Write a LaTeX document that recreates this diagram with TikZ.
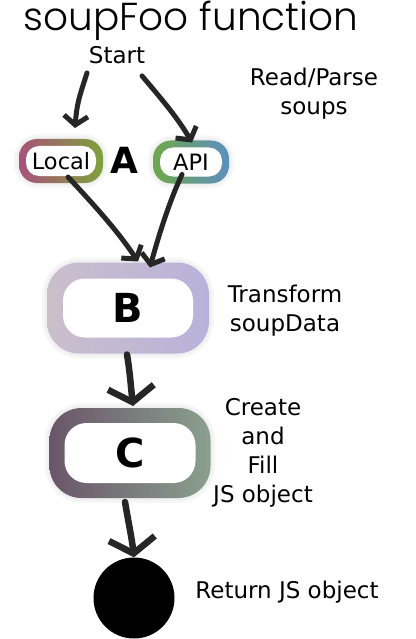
\documentclass[tikz,border=0pt]{standalone}
\usepackage{fontspec}
\setmainfont{DejaVu Sans}
\newfontfamily\titlefont{Poppins}[UprightFont=* Light]
\usetikzlibrary{arrows.meta,backgrounds}

\definecolor{localL}{HTML}{A8527A}
\definecolor{localR}{HTML}{7FA23A}
\definecolor{apiL}{HTML}{6FA84A}
\definecolor{apiR}{HTML}{5B8FC0}
\definecolor{bL}{HTML}{CBBECB}
\definecolor{bR}{HTML}{B8B2DA}
\definecolor{cL}{HTML}{6A556A}
\definecolor{cR}{HTML}{8AA08E}

\tikzset{
  txt/.style={font=\fontsize{23}{29}\selectfont, align=center, inner sep=0pt},
  blob/.style={fill=white, rounded corners=13pt, inner sep=0pt, font=\fontsize{22.5}{29}\selectfont},
  bigblob/.style={blob, rounded corners=22pt, font=\fontsize{40}{40}\selectfont\bfseries},
  ring/.style={rounded corners=#1},
  arr/.style={line width=5pt, line cap=round, line join=round, black!85,
    -{Straight Barb[length=9pt,width=24pt]}},
  bigarr/.style={arr, line width=6.5pt, -{Straight Barb[length=15pt,width=46pt]}},
}

\begin{document}
\begin{tikzpicture}[x=1pt,y=-1pt]
  \useasboundingbox (0,0) rectangle (415,639);

  % title and side notes
  \node[font=\titlefont\fontsize{39}{39}\selectfont, inner sep=0pt] (title) at (191,21) {soupFoo function};
  \node[txt] (start) at (117,55) {Start};
  \node[txt] (read) at (314,94) {Read/Parse\\soups};
  \node[txt] (transform) at (285,311) {Transform\\soupData};
  \node[txt] (create) at (263,453) {Create\\and\\Fill\\JS object};
  \node[txt] (ret) at (287,592) {Return JS object};

  % steps
  \node[blob, minimum width=70pt, minimum height=30pt, outer sep=7pt] (local) at (61,161) {Local};
  \node[font=\fontsize{36}{36}\selectfont\bfseries, inner sep=0pt] (a) at (124,160) {A};
  \node[blob, minimum width=62pt, minimum height=29pt, outer sep=7pt] (api) at (191,162) {API};
  \node[bigblob, minimum width=130pt, minimum height=59pt, outer sep=16pt] (b) at (128,308) {B};
  \node[bigblob, minimum width=131pt, minimum height=60pt, outer sep=15pt] (c) at (130,453) {C};
  \node[circle, fill=black, minimum size=81pt, inner sep=0pt] (end) at (134,598) {};

  % soft borders
  \begin{scope}[on background layer]
    \foreach \n/\l/\r/\rc in {local/localL/localR/18, api/apiL/apiR/18, b/bL/bR/32, c/cL/cR/32} {
      \fill[black!3, ring=\rc pt+6pt] ([shift={(-5,-5)}]\n.north west) rectangle ([shift={(5,5)}]\n.south east);
      \fill[black!6, ring=\rc pt+3pt] ([shift={(-2.5,-2.5)}]\n.north west) rectangle ([shift={(2.5,2.5)}]\n.south east);
      \shade[ring=\rc pt, left color=\l, right color=\r] (\n.north west) rectangle (\n.south east);
    }
  \end{scope}

  % connectors
  \draw[arr] ([shift={(-30,9)}]start.south) .. controls +(-8,25) and +(2,-25) .. ([shift={(14,-11)}]local.north);
  \draw[arr] ([shift={(25,12)}]start.south) .. controls +(22,26) and +(-14,-24) .. ([shift={(1,2)}]api.north);
  \draw[arr] ([shift={(7,-6)}]local.south) .. controls +(28,30) and +(-20,-30) .. ([shift={(10,-1)}]b.north);
  \draw[arr] ([shift={(-9,-9)}]api.south) .. controls +(-12,25) and +(8,-30) .. ([shift={(22,5)}]b.north);
  \draw[bigarr] ([shift={(-1,1)}]b.south) .. controls +(3,18) and +(-2,-18) .. ([shift={(3,-2)}]c.north);
  \draw[bigarr] ([shift={(-5,4)}]c.south) .. controls +(3,18) and +(-2,-18) .. (end.north);
\end{tikzpicture}
\end{document}
